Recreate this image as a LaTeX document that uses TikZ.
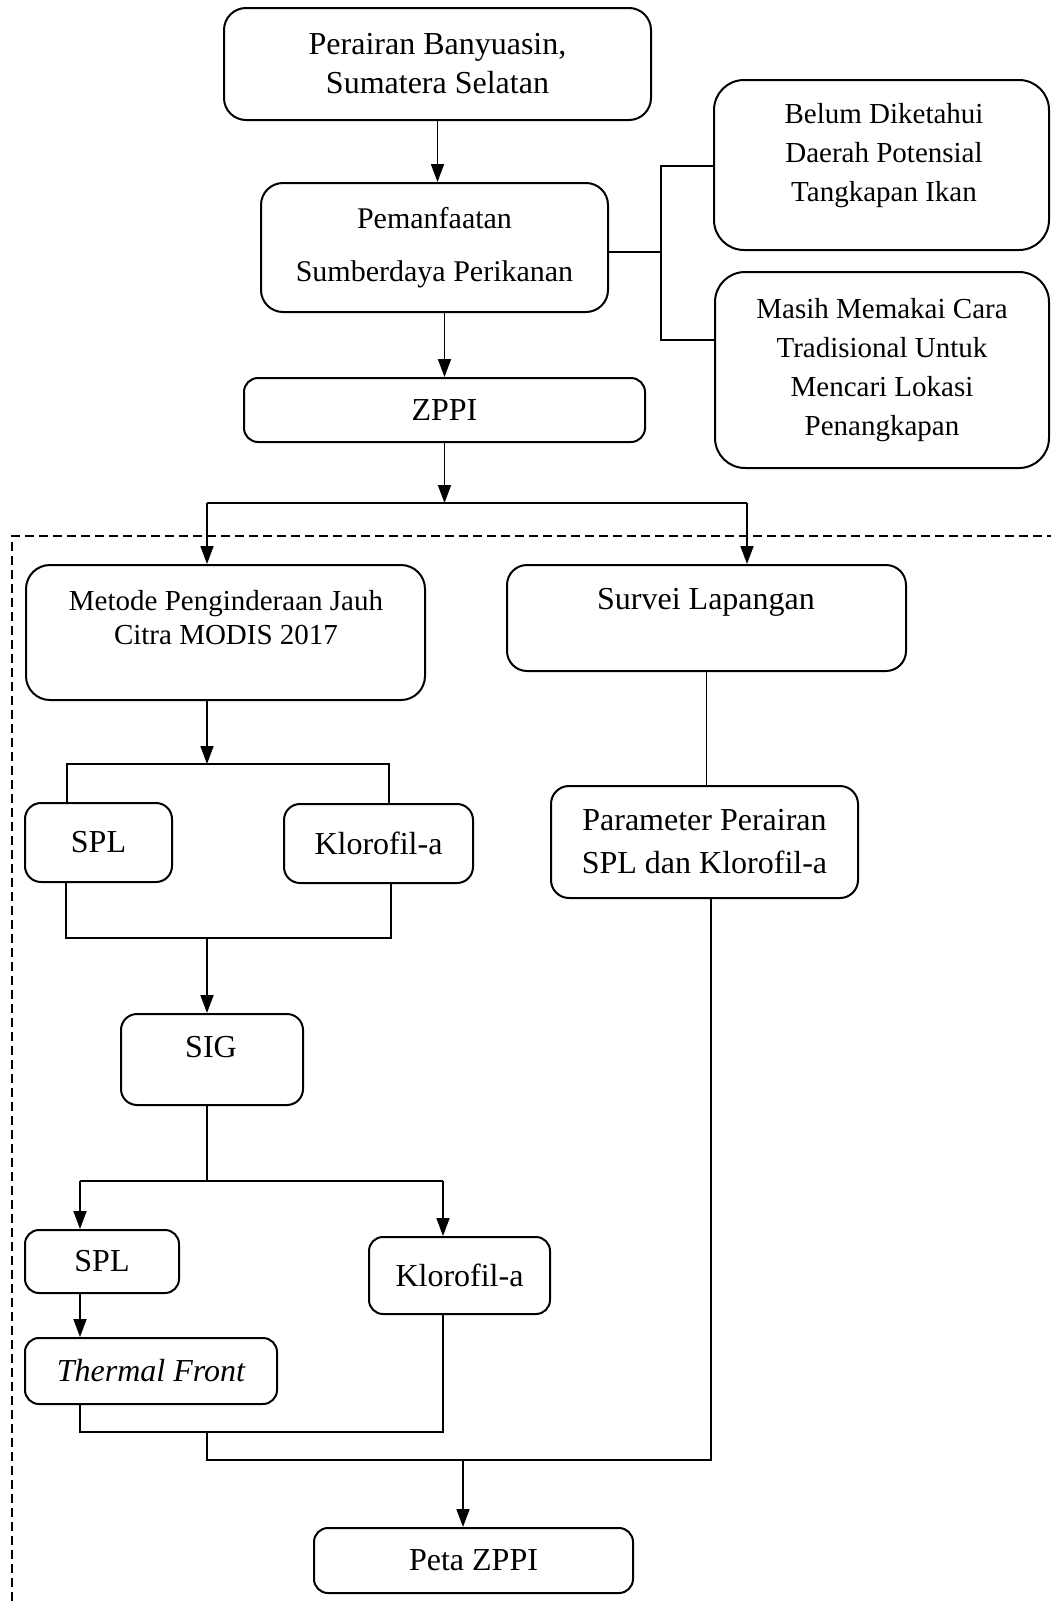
\documentclass[tikz,border=0pt]{standalone}
\usepackage{fontspec}
\setmainfont{Liberation Serif}
\usetikzlibrary{arrows.meta,calc}
\begin{document}
\begin{tikzpicture}[x=1pt,y=-1pt,
  box/.style={draw,line width=2pt,rounded corners=#1,inner sep=0pt},
  box/.default=18pt,
  ln/.style={line width=1.8pt},
  thin line/.style={line width=1pt},
  arr/.style={ln,-{Triangle[length=18pt,width=13pt]}},
  dashline/.style={line width=1.5pt,dash pattern=on 9pt off 5pt},
  big/.style={font=\fontsize{32}{39}\selectfont,align=center},
  sm/.style={font=\fontsize{29}{39}\selectfont,align=center}]
\useasboundingbox (0,0) rectangle (1051,1601);

% dashed frame
\coordinate (dA) at (12,1601);
\coordinate (dB) at (12,536);
\coordinate (dC) at (1051,536);
\draw[dashline] (dA) -- (dB) -- (dC);

% boxes
\node[box=22pt,big,minimum width=427pt,minimum height=112pt] (b1) at (437.5,64) {Perairan Banyuasin,\\Sumatera Selatan};
\node[box=22pt,font=\fontsize{30}{53}\selectfont,align=center,minimum width=347pt,minimum height=129pt] (b2) at (434.5,247.5) {Pemanfaatan\\Sumberdaya Perikanan};
\node[box=14pt,big,minimum width=401pt,minimum height=64pt] (zppi) at (444.5,410) {ZPPI};
\node[box=30pt,minimum width=335pt,minimum height=170pt] (bel) at (881.5,165) {};
\node[sm] (belt) at (884,156) {Belum Diketahui\\Daerah Potensial\\Tangkapan Ikan};
\node[box=30pt,sm,minimum width=334pt,minimum height=196pt] (mas) at (882,370) {Masih Memakai Cara\\Tradisional Untuk\\Mencari Lokasi\\Penangkapan};

\node[box=24pt,minimum width=399pt,minimum height=135pt] (met) at (225.5,632.5) {};
\node[font=\fontsize{29}{34}\selectfont,align=center] (mett) at (226,617.5) {Metode Penginderaan Jauh\\Citra MODIS 2017};
\node[box=20pt,minimum width=399pt,minimum height=106pt] (sur) at (706.5,618) {};
\node[big] (surt) at (706,602) {Survei Lapangan};

\node[box=16pt,big,minimum width=147pt,minimum height=79pt] (spl) at (98.5,842.5) {SPL};
\node[box=16pt,big,minimum width=189pt,minimum height=79pt] (klo) at (378.5,843.5) {Klorofil-a};
\node[box=18pt,font=\fontsize{32}{43}\selectfont,align=center,minimum width=307pt,minimum height=112pt] (par) at (704.5,842) {Parameter Perairan\\SPL dan Klorofil-a};

\node[box=16pt,minimum width=182pt,minimum height=91pt] (sig) at (212,1059.5) {};
\node[big] (sigt) at (211,1047) {SIG};

\node[box=14pt,big,minimum width=154pt,minimum height=63pt] (spl2) at (102,1261.5) {SPL};
\node[box=14pt,big,minimum width=181pt,minimum height=77pt] (klo2) at (459.5,1275.5) {Klorofil-a};
\node[box=14pt,big,minimum width=252pt,minimum height=66pt] (thf) at (151,1371) {\itshape Thermal Front};
\node[box=14pt,big,minimum width=319pt,minimum height=65pt] (peta) at (473.5,1560.5) {Peta ZPPI};

% top connectors
\draw[arr] (b1.south) -- (b1.south |- b2.north);
\draw[arr] (zppi.north |- b2.south) -- (zppi.north);

\coordinate (br) at (661,252);
\coordinate (brT) at (661,166);
\coordinate (brB) at (661,340);
\draw[ln] (b2.east |- br) -- (br);
\draw[ln] (bel.west |- brT) -- (brT) -- (brB) -- (mas.west |- brB);

\coordinate (sp) at (444.5,503);
\coordinate (spL) at (207,503);
\coordinate (spR) at (747,503);
\draw[arr] (zppi.south) -- (sp);
\draw[ln] (spL) -- (spR);
\draw[arr] (spL) -- (spL |- met.north);
\draw[arr] (spR) -- (spR |- sur.north);

% left branch
\coordinate (m1) at (207,764);
\coordinate (m1L) at (67,764);
\coordinate (m1R) at (389,764);
\draw[arr] (met.south -| m1) -- (m1);
\draw[ln] (m1L |- spl.north) -- (m1L) -- (m1R) -- (m1R |- klo.north);

\coordinate (m2) at (207,938);
\coordinate (m2L) at (66,938);
\coordinate (m2R) at (391,938);
\draw[ln] (spl.south -| m2L) -- (m2L) -- (m2R) -- (klo.south -| m2R);
\draw[arr] (m2) -- (m2 |- sig.north);

\coordinate (g1) at (207,1181);
\coordinate (g1L) at (80,1181);
\coordinate (g1R) at (443,1181);
\draw[ln] (sig.south -| g1) -- (g1);
\draw[ln] (g1L) -- (g1R);
\draw[arr] (g1L) -- (g1L |- spl2.north);
\draw[arr] (g1R) -- (g1R |- klo2.north);
\draw[arr] (spl2.south -| g1L) -- (g1L |- thf.north);

\coordinate (j1) at (207,1432);
\coordinate (j1L) at (80,1432);
\coordinate (j1R) at (443,1432);
\coordinate (j2) at (207,1460);
\coordinate (j2M) at (463,1460);
\coordinate (j2R) at (711,1460);
\draw[ln] (thf.south -| j1L) -- (j1L) -- (j1R) -- (klo2.south -| j1R);
\draw[ln] (j1) -- (j2) -- (j2R) -- (par.south -| j2R);
\draw[arr] (j2M) -- (j2M |- peta.north);

% right branch
\draw[thin line] (sur.south) -- (sur.south |- par.north);
\end{tikzpicture}
\end{document}
